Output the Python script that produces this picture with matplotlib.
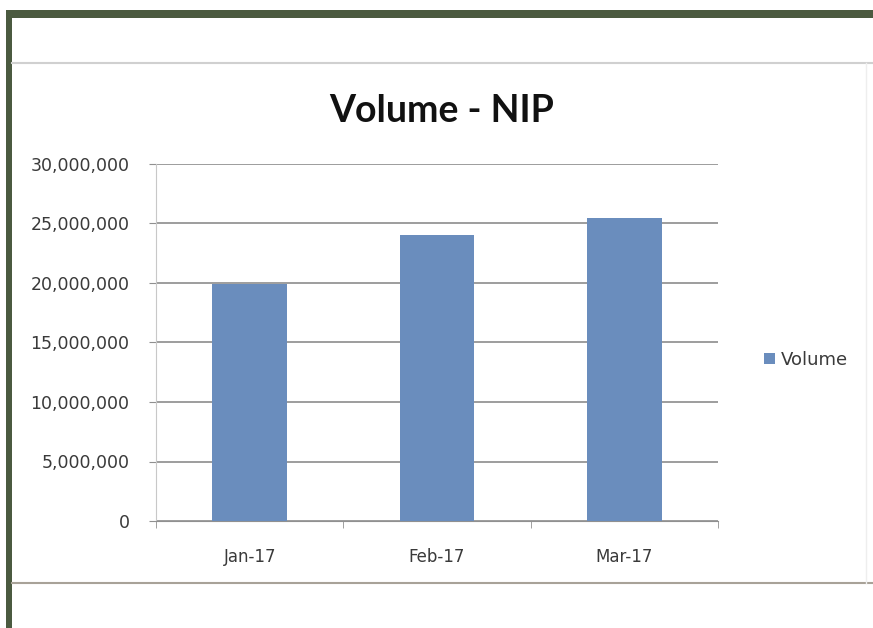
import matplotlib.pyplot as plt
from matplotlib.patches import Rectangle
from matplotlib.lines import Line2D
from matplotlib.ticker import FuncFormatter

months = ['Jan-17', 'Feb-17', 'Mar-17']
volume = [19950000, 24050000, 25450000]

W, H = 873, 628
fig = plt.figure(figsize=[W / 100, H / 100], dpi=100)
fig.patch.set_facecolor('white')

# outer frame (dark green, top and left)
green = '#4b5a40'
fig.add_artist(Rectangle((6 / W, 1 - 18 / H), 1, 8 / H, transform=fig.transFigure,
                         facecolor=green, edgecolor='none'))
fig.add_artist(Rectangle((6 / W, 0), 6 / W, 1 - 10 / H, transform=fig.transFigure,
                         facecolor=green, edgecolor='none'))
# chart box lines
fig.add_artist(Line2D([12 / W, 1], [1 - 63 / H, 1 - 63 / H], transform=fig.transFigure,
                      color='#d0d0d0', lw=1.5))
fig.add_artist(Line2D([12 / W, 1], [1 - 583 / H, 1 - 583 / H], transform=fig.transFigure,
                      color='#a8a298', lw=1.5))
fig.add_artist(Line2D([866 / W, 866 / W], [1 - 583 / H, 1 - 63 / H], transform=fig.transFigure,
                      color='#eeeeee', lw=1))

ax = fig.add_axes([156 / W, 1 - 521 / H, (718 - 156) / W, (521 - 164) / H])
x = range(len(months))
ax.bar(x, volume, width=0.4, color='#6a8dbd', label='Volume', zorder=3)

ax.set_xlim(-0.5, 2.5)
ax.set_ylim(0, 30000000)
ax.set_yticks(range(0, 30000001, 5000000))
ax.yaxis.set_major_formatter(FuncFormatter(lambda v, p: f'{int(v):,}'))
ax.set_xticks(list(x))
ax.set_xticklabels(months)
ax.set_xticks([-0.5, 0.5, 1.5, 2.5], minor=True)
ax.tick_params(axis='x', which='major', length=0, pad=26, labelsize=12, labelcolor='#3a3a3a')
ax.tick_params(axis='x', which='minor', length=5, color='#909090')
ax.tick_params(axis='y', length=5, color='#909090', pad=14, labelsize=12.5, labelcolor='#3a3a3a')
for lbl in ax.get_xticklabels():
    lbl.set_va('center')

ax.grid(axis='y', color='#8c8c8c', lw=1.2, zorder=0)
ax.spines['top'].set_visible(False)
ax.spines['right'].set_visible(False)
ax.spines['left'].set_color('#c8c8c8')
ax.spines['bottom'].set_color('#909090')

fig.text(442 / W, 1 - 111 / H, 'Volume - NIP', ha='center', va='center',
         fontsize=27, fontweight='bold', family='Lato', color='#111111')

leg = ax.legend(loc='center left', bbox_to_anchor=(748 / W, 1 - 360 / H),
                bbox_transform=fig.transFigure, frameon=False, handlelength=0.6,
                handleheight=0.6, handletextpad=0.3, prop={'size': 13})
for t in leg.get_texts():
    t.set_color('#3a3a3a')

fig.savefig('out.png', dpi=100)
